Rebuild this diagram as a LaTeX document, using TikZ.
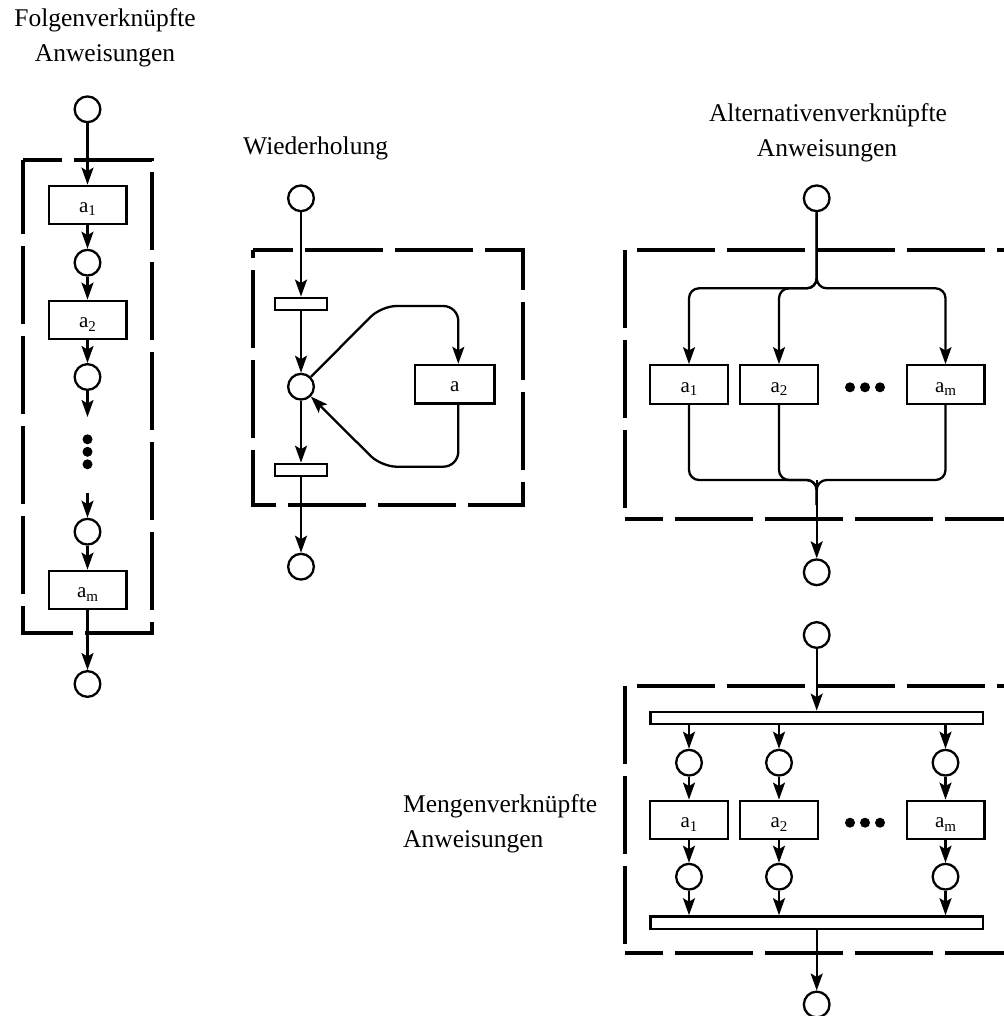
\documentclass[tikz,border=0pt]{standalone}
\usepackage{fontspec}
\setmainfont{Liberation Serif}
\usetikzlibrary{arrows.meta}

% lowered index for the action labels (a_1, a_2, a_m)
\newcommand\subidx[1]{\raisebox{-3.5pt}{\fontsize{15}{15}\selectfont #1}}

\begin{document}
\begin{tikzpicture}[x=1pt,y=-1pt,
  place/.style={circle, draw, line width=2.3pt, minimum size=25.7pt, inner sep=0pt},
  act/.style={rectangle, draw, line width=2.3pt, minimum width=77.7pt, minimum height=38.5pt,
    inner sep=0pt, text height=15pt, text depth=0pt, font=\fontsize{21}{21}\selectfont},
  bar/.style={rectangle, draw, line width=2.3pt, minimum height=12.3pt, inner sep=0pt},
  flow/.style={line width=2.3pt, line join=round, -{Stealth[length=17pt,width=12pt,inset=3.5pt]}},
  plain/.style={line width=2.3pt, line join=round},
  frame/.style={line width=3.8pt, dash pattern=on 78pt off 12pt},
  bigdot/.style={circle, fill, minimum size=10pt, inner sep=0pt},
  lbl/.style={font=\fontsize{25.5}{35}\selectfont, inner sep=0pt}]

\useasboundingbox (0,0) rectangle (1003,1016);

% ---------------- sequence ----------------
\node[lbl, anchor=base] (folgA) at (105,26.7) {Folgenverknüpfte};
\node[lbl, anchor=base] (folgB) at (105,61.7) {Anweisungen};

\node[place] (f0) at (87.5,109.3) {};
\node[act]   (f1) at (87.5,205) {a\subidx{1}};
\node[place] (f2) at (87.5,262.7) {};
\node[act]   (f3) at (87.5,320) {a\subidx{2}};
\node[place] (f4) at (87.5,377) {};
\coordinate  (fe) at (87.5,417);
\node[bigdot] (fd1) at (87.5,439.3) {};
\node[bigdot] (fd2) at (87.5,451.8) {};
\node[bigdot] (fd3) at (87.5,464.3) {};
\coordinate  (fs) at (87.5,493.3);
\node[place] (f5) at (87.5,531.7) {};
\node[act]   (f6) at (87.5,590) {a\subidx{m}};
\node[place] (f7) at (87.5,684) {};

\draw[flow] (f0) -- (f1);
\draw[flow] (f1) -- (f2);
\draw[flow] (f2) -- (f3);
\draw[flow] (f3) -- (f4);
\draw[flow] (f4) -- (fe);
\draw[flow] (fs) -- (f5);
\draw[flow] (f5) -- (f6);
\draw[flow] (f6) -- (f7);

\draw[frame, dash phase=38.4] (22.7,160) -- (152,160) -- (152,633.3) -- (22.7,633.3) -- cycle;

% ---------------- repetition ----------------
\node[lbl, anchor=base west] (wied) at (243,155) {Wiederholung};

\node[place] (w0) at (301,198.3) {};
\node[bar, minimum width=51.6pt] (w1) at (301,303.9) {};
\node[place] (w2) at (301,386.7) {};
\node[bar, minimum width=51.6pt] (w3) at (301,470) {};
\node[place] (w4) at (301,566.7) {};
\node[act, minimum width=79.3pt] (wa) at (454.7,384.2) {a};
\coordinate (wtop) at (458.3,306);
\coordinate (wbot) at (458.3,466.7);
\coordinate (wtl) at (381.5,306);
\coordinate (wbl) at (381.5,466.7);

\draw[flow] (w0) -- (w1);
\draw[flow] (w1) -- (w2);
\draw[flow] (w2) -- (w3);
\draw[flow] (w3) -- (w4);
\draw[flow, rounded corners=15pt] (w2.45) -- (wtl) -- (wtop) -- (wtop |- wa.north);
\draw[flow, rounded corners=15pt] (wbot |- wa.south) -- (wbot) -- (wbl) -- (w2.-45);

\draw[frame, dash phase=38] (253.3,250) -- (523.3,250) -- (523.3,505) -- (253.3,505) -- cycle;

% ---------------- alternatives ----------------
\node[lbl, anchor=base] (altA) at (828,121.7) {Alternativenverknüpfte};
\node[lbl, anchor=base] (altB) at (827,156.7) {Anweisungen};

\node[place] (p0) at (816.7,198.3) {};
\node[act]   (p1) at (689,384.5) {a\subidx{1}};
\node[act]   (p2) at (779,384.5) {a\subidx{2}};
\node[act]   (pm) at (945.5,384.5) {a\subidx{m}};
\node[bigdot] (pd1) at (850,387.3) {};
\node[bigdot] (pd2) at (865,387.3) {};
\node[bigdot] (pd3) at (880,387.3) {};
\node[place] (p9) at (816.7,572.3) {};
\coordinate (psplit) at (816.7,288.3);
\coordinate (pjoin) at (816.7,480);
\coordinate (pdown) at (816.7,505);

\draw[flow, rounded corners=10pt] (p0) -- (psplit) -- (psplit -| p1) -- (p1);
\draw[flow, rounded corners=10pt] (p0) -- (psplit) -- (psplit -| p2) -- (p2);
\draw[flow, rounded corners=10pt] (p0) -- (psplit) -- (psplit -| pm) -- (pm);
\draw[plain, rounded corners=10pt] (p1) -- (pjoin -| p1) -- (pjoin) -- (pdown);
\draw[plain, rounded corners=10pt] (p2) -- (pjoin -| p2) -- (pjoin) -- (pdown);
\draw[plain, rounded corners=10pt] (pm) -- (pjoin -| pm) -- (pjoin) -- (pdown);
\draw[flow] (pjoin) -- (p9);

\draw[frame, dash phase=78.3] (625,250) -- (1030,250);
\draw[frame] (625,250) -- (625,519.3);
\draw[frame, dash phase=39.7] (625,519.3) -- (1030,519.3);

% ---------------- concurrency ----------------
\node[lbl, anchor=base west] (menA) at (403,812) {Mengenverknüpfte};
\node[lbl, anchor=base west] (menB) at (403,847) {Anweisungen};

\node[place] (s0) at (816.7,635) {};
\node[bar, minimum width=332.6pt] (s1) at (816.7,717.9) {};
\node[place] (s1a) at (689,762.7) {};
\node[place] (s1b) at (779,762.7) {};
\node[place] (s1m) at (945.5,762.7) {};
\node[act]   (s2a) at (689,820) {a\subidx{1}};
\node[act]   (s2b) at (779,820) {a\subidx{2}};
\node[act]   (s2m) at (945.5,820) {a\subidx{m}};
\node[bigdot] (sd1) at (850,822.7) {};
\node[bigdot] (sd2) at (865,822.7) {};
\node[bigdot] (sd3) at (880,822.7) {};
\node[place] (s3a) at (689,876.7) {};
\node[place] (s3b) at (779,876.7) {};
\node[place] (s3m) at (945.5,876.7) {};
\node[bar, minimum width=332.6pt] (s4) at (816.7,922.5) {};
\node[place] (s5) at (816.7,1004.5) {};

\draw[flow] (s0) -- (s1);
\foreach \c in {a,b,m}{
  \draw[flow] (s1\c |- s1.south) -- (s1\c);
  \draw[flow] (s1\c) -- (s2\c);
  \draw[flow] (s2\c) -- (s3\c);
  \draw[flow] (s3\c) -- (s3\c |- s4.north);
}
\draw[flow] (s4) -- (s5);

\draw[frame, dash phase=78.3] (625,686) -- (1030,686);
\draw[frame] (625,686) -- (625,953.3);
\draw[frame, dash phase=39.7] (625,953.3) -- (1030,953.3);

\end{tikzpicture}
\end{document}
